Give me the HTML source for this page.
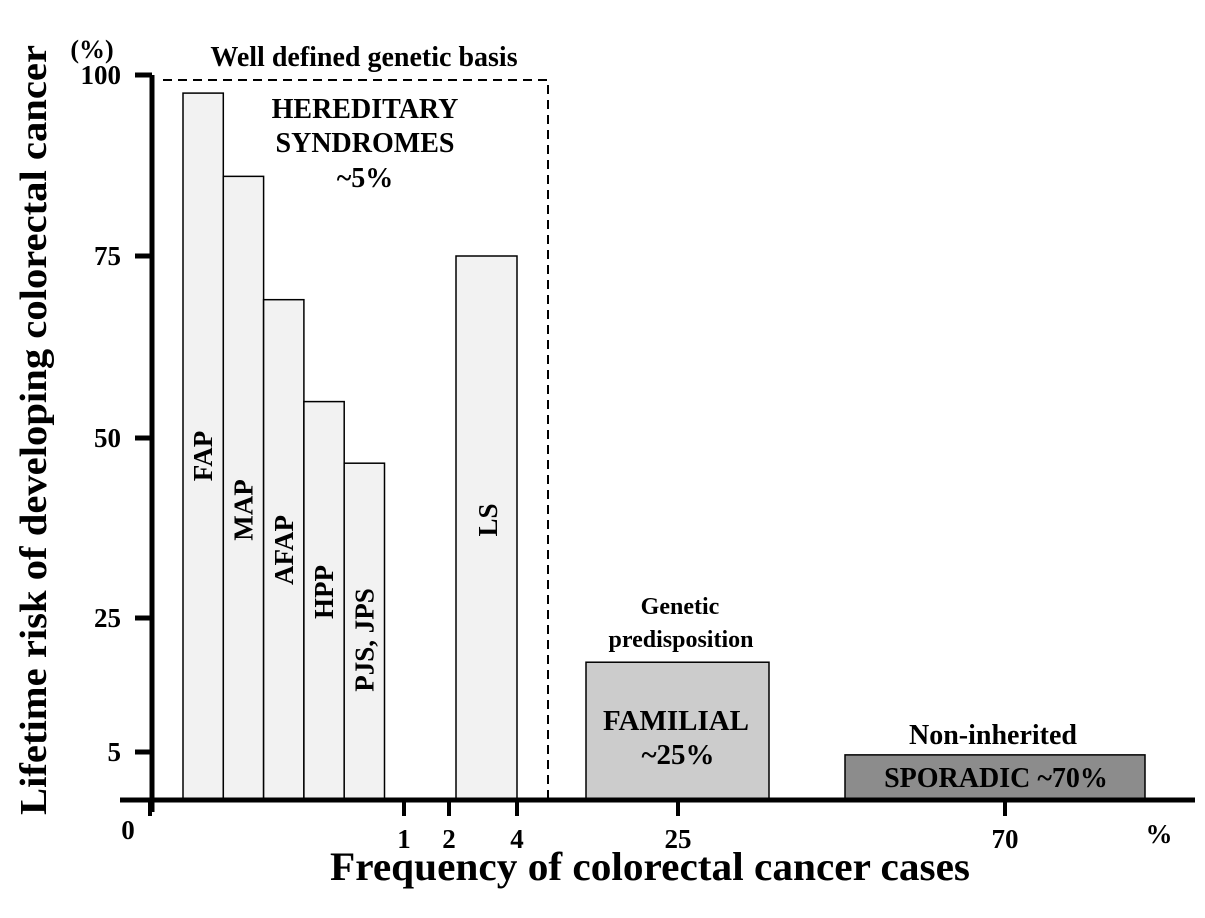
<!DOCTYPE html>
<html><head><meta charset="utf-8"><style>
html,body{margin:0;padding:0;background:#fff}
svg{display:block}
text{font-family:"Liberation Serif",serif;font-weight:bold;fill:#000}
</style></head><body>
<svg id="chart" width="1205" height="918" viewBox="0 0 1205 918" xmlns="http://www.w3.org/2000/svg"></svg>
<script>
const yTicks = [0, 5, 25, 50, 75, 100];
const yTickLabels = ["0", "5", "25", "50", "75", "100"];
const xTickLabels = ["1", "2", "4", "25", "70"];
const hereditaryNames = ["FAP", "MAP", "AFAP", "HPP", "PJS, JPS"];
const hereditaryRisk = [97.5, 86, 69, 55, 46.5];
const lsRisk = [75];
const familialRisk = [18.4];
const sporadicRisk = [4.7];

const NS = "http://www.w3.org/2000/svg";
const svg = document.getElementById("chart");
const Y0 = 800;
const yTickPix = [800, 752, 618, 438, 256, 75];
function yScale(v) {
  for (let i = 0; i < yTicks.length - 1; i++) {
    if (v <= yTicks[i + 1] || i === yTicks.length - 2) {
      const t = (v - yTicks[i]) / (yTicks[i + 1] - yTicks[i]);
      return yTickPix[i] + t * (yTickPix[i + 1] - yTickPix[i]);
    }
  }
}
function el(tag, attrs, parent) {
  const e = document.createElementNS(NS, tag);
  for (const k in attrs) e.setAttribute(k, attrs[k]);
  (parent || svg).appendChild(e);
  return e;
}
function txt(s, attrs) { const t = el("text", attrs); t.textContent = s; return t; }

let e = el("path", {d: "M163 80 H548 V800", fill: "none", stroke: "#000", "stroke-width": 2, "stroke-dasharray": "9 6"});



const hx0 = 183, hw = 40.3;
hereditaryRisk.forEach((v, i) => {
  const x = hx0 + i * hw, y = yScale(v);
  const r = el("rect", {x: x, y: y, width: hw, height: Y0 - y, fill: "#f2f2f2", stroke: "#000", "stroke-width": 1.5});
  
  
});
const labelY = [456, 510, 550, 592, 640];
hereditaryNames.forEach((n, i) => {
  const cx = hx0 + i * hw + hw / 2 + 9, cy = labelY[i];
  const t = txt(n, {x: cx, y: cy, "font-size": 27, "text-anchor": "middle", transform: `rotate(-90 ${cx} ${cy})`});
  
  
});
{
  const y = yScale(lsRisk[0]);
  const r = el("rect", {x: 456, y: y, width: 61, height: Y0 - y, fill: "#f2f2f2", stroke: "#000", "stroke-width": 1.5});
  
  
  const t = txt("LS", {x: 497, y: 520, "font-size": 27, "text-anchor": "middle", transform: "rotate(-90 497 520)"});
  
  
}
{
  const y = yScale(familialRisk[0]);
  const r = el("rect", {x: 586, y: y, width: 183, height: Y0 - y, fill: "#cccccc", stroke: "#000", "stroke-width": 1.5});
  
  
}
{
  const y = yScale(sporadicRisk[0]);
  const r = el("rect", {x: 845, y: y, width: 300, height: Y0 - y, fill: "#8c8c8c", stroke: "#000", "stroke-width": 1.5});
  
  
}

e = el("line", {x1: 152, y1: 75, x2: 152, y2: 812, stroke: "#000", "stroke-width": 5});


e = el("line", {x1: 120, y1: 800, x2: 1195, y2: 800, stroke: "#000", "stroke-width": 5});



yTicks.forEach((v, i) => {
  if (v === 0) return;
  const y = yScale(v);
  const l = el("line", {x1: 135, y1: y, x2: 152, y2: y, stroke: "#000", "stroke-width": 5});
  
  
  const t = txt(yTickLabels[i], {x: 121, y: y + 9, "font-size": 27, "text-anchor": "end"});
  
  
});
e = txt("0", {x: 128, y: 839, "font-size": 27, "text-anchor": "middle"});



const xTickPix = [404, 449, 517, 678, 1005];
xTickLabels.forEach((s, i) => {
  const x = xTickPix[i];
  const l = el("line", {x1: x, y1: 800, x2: x, y2: 816, stroke: "#000", "stroke-width": 4});
  
  
  const t = txt(s, {x: x, y: 848, "font-size": 27, "text-anchor": "middle"});
  
  
});
e = el("line", {x1: 150, y1: 800, x2: 150, y2: 816, stroke: "#000", "stroke-width": 4});


e = txt("%", {x: 1159, y: 843, "font-size": 27, "text-anchor": "middle"});


e = txt("(%)", {x: 92, y: 58, "font-size": 26, "text-anchor": "middle"});



e = txt("Lifetime risk of developing colorectal cancer", {x: 0, y: 0, "font-size": 38, "text-anchor": "middle", textLength: 770, lengthAdjust: "spacingAndGlyphs", transform: "translate(46 430) rotate(-90)"});


e = txt("Frequency of colorectal cancer cases", {x: 650, y: 880, "font-size": 40, "text-anchor": "middle", textLength: 640, lengthAdjust: "spacingAndGlyphs"});



const ann = [
  ["Well defined genetic basis", 364, 66, 28, "well-defined-label"],
  ["HEREDITARY", 365, 118, 28, "hereditary-label"],
  ["SYNDROMES", 365, 152, 28, "syndromes-label"],
  ["~5%", 365, 187, 28, "hereditary-percent"],
  ["Genetic", 680, 614, 24, "genetic-label"],
  ["predisposition", 681, 647, 24, "predisposition-label"],
  ["FAMILIAL", 676, 730, 29, "familial-label"],
  ["~25%", 678, 764, 29, "familial-percent"],
  ["Non-inherited", 993, 744, 28, "non-inherited-label"],
  ["SPORADIC ~70%", 996, 787, 28, "sporadic-label"]
];
ann.forEach(a => {
  const t = txt(a[0], {x: a[1], y: a[2], "font-size": a[3], "text-anchor": "middle"});
  
  
});
</script>
</body></html>
